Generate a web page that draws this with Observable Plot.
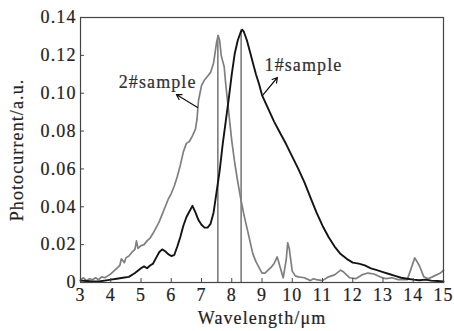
<!DOCTYPE html>
<html>
<head>
<meta charset="utf-8">
<script src="https://cdn.jsdelivr.net/npm/d3@7"></script>
<script src="https://cdn.jsdelivr.net/npm/@observablehq/plot@0.6"></script>
<style>
  html, body { margin: 0; padding: 0; background: #fff; }
  #chart svg, #chart svg text { font-family: "Liberation Serif", "Times New Roman", serif !important; font-size: 18px !important; letter-spacing: 1.1px; }
  #chart svg text { stroke: #222; stroke-width: 0.2px; }
</style>
</head>
<body>
<div id="chart"></div>
<script>
// Wavelength (µm) and photocurrent (a.u.)
const wl1 = [3.0,3.2,3.4,3.6,3.8,4.0,4.2,4.4,4.6,4.8,5.0,5.1,5.2,5.3,5.4,5.5,5.6,5.7,5.8,5.9,6.0,6.1,6.2,6.3,6.4,6.5,6.6,6.7,6.8,6.9,7.0,7.1,7.2,7.3,7.4,7.5,7.6,7.7,7.8,7.9,8.0,8.1,8.2,8.3,8.35,8.4,8.5,8.6,8.7,8.8,8.9,9.0,9.2,9.4,9.6,9.8,10.0,10.2,10.4,10.6,10.8,11.0,11.2,11.4,11.6,11.8,12.0,12.2,12.4,12.6,12.8,13.0,13.2,13.4,13.6,13.8,14.0,14.2,14.4,14.6,14.8,15.0];
const pc1 = [0.0010,0.0008,0.0005,0.0005,0.0010,0.0015,0.0020,0.0025,0.0030,0.0050,0.0075,0.0085,0.0075,0.0090,0.0100,0.0130,0.0160,0.0175,0.0165,0.0150,0.0140,0.0145,0.0190,0.0240,0.0300,0.0345,0.0375,0.0405,0.0370,0.0330,0.0305,0.0290,0.0290,0.0310,0.0370,0.0480,0.0590,0.0730,0.0850,0.0970,0.1100,0.1210,0.1280,0.1325,0.1335,0.1325,0.1280,0.1220,0.1160,0.1100,0.1050,0.0990,0.0920,0.0850,0.0790,0.0730,0.0665,0.0600,0.0530,0.0450,0.0370,0.0300,0.0240,0.0190,0.0150,0.0125,0.0105,0.0100,0.0090,0.0075,0.0065,0.0055,0.0045,0.0035,0.0025,0.0020,0.0015,0.0012,0.0015,0.0010,0.0008,0.0005];

const wl2 = [3.0,3.1,3.2,3.3,3.4,3.5,3.6,3.7,3.8,3.9,4.0,4.1,4.2,4.3,4.35,4.45,4.5,4.6,4.7,4.8,4.85,4.9,5.0,5.1,5.2,5.3,5.4,5.5,5.6,5.7,5.8,5.9,6.0,6.1,6.2,6.3,6.4,6.5,6.6,6.7,6.8,6.85,6.9,7.0,7.1,7.2,7.3,7.4,7.5,7.55,7.6,7.65,7.75,7.8,7.9,8.0,8.1,8.2,8.3,8.4,8.5,8.6,8.7,8.8,8.9,9.0,9.1,9.2,9.3,9.4,9.5,9.55,9.6,9.7,9.8,9.85,9.9,10.0,10.1,10.2,10.4,10.6,10.7,10.8,11.0,11.2,11.4,11.6,11.7,11.9,12.1,12.3,12.5,12.7,12.9,13.1,13.3,13.5,13.8,13.9,14.05,14.2,14.35,14.5,14.7,14.9,15.0];
const pc2 = [0.0015,0.0025,0.0010,0.0020,0.0015,0.0025,0.0015,0.0030,0.0025,0.0035,0.0045,0.0060,0.0075,0.0090,0.0125,0.0105,0.0130,0.0140,0.0160,0.0175,0.0220,0.0180,0.0195,0.0200,0.0220,0.0235,0.0260,0.0290,0.0320,0.0360,0.0400,0.0440,0.0470,0.0510,0.0560,0.0620,0.0690,0.0735,0.0745,0.0775,0.0810,0.0860,0.0960,0.1040,0.1070,0.1090,0.1110,0.1160,0.1270,0.1305,0.1280,0.1200,0.1140,0.1050,0.0900,0.0750,0.0630,0.0530,0.0440,0.0360,0.0290,0.0220,0.0150,0.0110,0.0080,0.0050,0.0050,0.0065,0.0080,0.0100,0.0135,0.0110,0.0080,0.0025,0.0120,0.0210,0.0180,0.0060,0.0035,0.0030,0.0025,0.0010,0.0020,0.0015,0.0010,0.0030,0.0040,0.0065,0.0055,0.0025,0.0020,0.0040,0.0050,0.0045,0.0030,0.0020,0.0025,0.0015,0.0015,0.0060,0.0130,0.0090,0.0030,0.0020,0.0035,0.0050,0.0065];

// peak marker lines
const peakX = [7.54, 8.31];
const peakY = [0.1305, 0.1335];

// tick values
const xTicks = [3,4,5,6,7,8,9,10,11,12,13,14,15];
const yTicks = [0,0.02,0.04,0.06,0.08,0.10,0.12,0.14];

// series labels and arrows (data coordinates)
const labelText = ["2#sample", "1#sample"];
const labelX = [5.55, 10.37];
const labelY = [0.1057, 0.1146];
const arrowX1 = [6.87, 9.02];
const arrowY1 = [0.0925, 0.0988];
const arrowX2 = [6.17, 9.51];
const arrowY2 = [0.0993, 0.1083];

const s1 = wl1.map((x, i) => ({x, y: pc1[i]}));
const s2 = wl2.map((x, i) => ({x, y: pc2[i]}));
const peaks = peakX.map((x, i) => ({x, y: peakY[i]}));
const labels = labelText.map((t, i) => ({t, x: labelX[i], y: labelY[i]}));
const arrows = arrowX1.map((x1, i) => ({x1, y1: arrowY1[i], x2: arrowX2[i], y2: arrowY2[i]}));

const chart = Plot.plot({
  width: 454,
  height: 331,
  marginLeft: 80,
  marginRight: 11,
  marginTop: 17,
  marginBottom: 49,
  style: "font-family: 'Liberation Serif', serif; font-size: 18px; color: #222; background: #fff;",
  x: {domain: [3, 15]},
  y: {domain: [0, 0.14]},
  marks: [
    Plot.ruleX(peaks, {x: "x", y1: 0, y2: "y", stroke: "#7c7c7c", strokeWidth: 1.6}),
    Plot.line(s2, {x: "x", y: "y", stroke: "#7f7f7f", strokeWidth: 1.7}),
    Plot.line(s1, {x: "x", y: "y", stroke: "#141414", strokeWidth: 1.9}),
    Plot.frame({stroke: "#444", strokeWidth: 1.2}),
    Plot.axisX({ticks: xTicks, tickSize: -4, tickPadding: 10, tickFormat: d => String(d), label: null, stroke: "#444", fontSize: 18, fill: "#222"}),
    Plot.axisY({ticks: yTicks, tickSize: -4, tickPadding: 8, tickFormat: d => d === 0 ? "0" : d.toFixed(2), label: null, stroke: "#444", fontSize: 18, fill: "#222"}),
    Plot.text(["Wavelength/μm"], {frameAnchor: "bottom", dy: 41, fontSize: 18, fill: "#222"}),
    Plot.text(["Photocurrent/a.u."], {frameAnchor: "left", textAnchor: "middle", rotate: -90, dx: -63, fontSize: 18, fill: "#222"}),
    Plot.text(labels, {x: "x", y: "y", text: "t", fontSize: 18, fill: "#333"}),
    Plot.arrow(arrows, {x1: "x1", y1: "y1", x2: "x2", y2: "y2", stroke: "#111", strokeWidth: 1.2, headLength: 7})
  ]
});
document.getElementById("chart").appendChild(chart);
</script>
</body>
</html>
